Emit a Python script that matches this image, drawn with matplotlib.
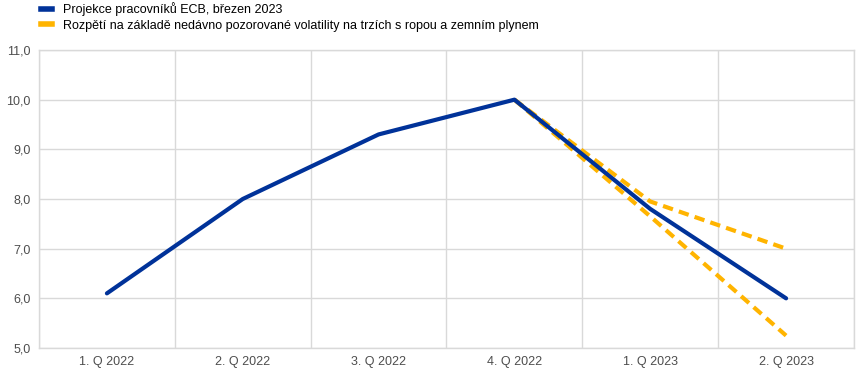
import numpy as np
import matplotlib.pyplot as plt
from matplotlib.lines import Line2D

plt.rcParams['font.family'] = ['Liberation Sans', 'DejaVu Sans']

# kategorie a data
quarters = ['1. Q 2022', '2. Q 2022', '3. Q 2022', '4. Q 2022', '1. Q 2023', '2. Q 2023']
projection = [6.1, 8.0, 9.3, 10.0, 7.8, 6.0]
upper_band = [10.0, 7.95, 7.0]
lower_band = [10.0, 7.65, 5.25]
band_idx = [3, 4, 5]

blue = '#003299'
yellow = '#ffb400'
grid_c = '#d9d9d9'

fig = plt.figure(figsize=(8.62, 3.8), dpi=100)
ax = fig.add_axes([39/862, 32/380, 815/862, 298/380])

x = np.arange(len(quarters))
ax.plot(band_idx, upper_band, color=yellow, lw=3, ls=(0, (2.5, 1.5)), zorder=2)
ax.plot(band_idx, lower_band, color=yellow, lw=3, ls=(0, (2.5, 1.5)), zorder=2)
ax.plot(x, projection, color=blue, lw=3, zorder=3, solid_capstyle='round')

ax.set_xlim(-0.5, len(quarters) - 0.5)
ax.set_ylim(5, 11)
ax.set_yticks(np.arange(5, 11.01, 1))
ax.set_yticklabels([f'{v:.1f}'.replace('.', ',') for v in np.arange(5, 11.01, 1)])
ax.set_xticks(x)
ax.set_xticklabels(quarters)
ax.set_xticks(np.arange(-0.5, len(quarters), 1), minor=True)

ax.grid(True, axis='y', color=grid_c, lw=1)
ax.grid(True, axis='x', which='minor', color=grid_c, lw=1)
ax.set_axisbelow(True)
for s in ax.spines.values():
    s.set_color(grid_c)
    s.set_linewidth(1)
ax.tick_params(axis='both', which='both', length=0, labelsize=9, colors='#4d4d4d', pad=6)

handles = [Line2D([], [], color=blue, lw=4),
           Line2D([], [], color=yellow, lw=4)]
labels = ['Projekce pracovníků ECB, březen 2023',
          'Rozpětí na základě nedávno pozorované volatility na trzích s ropou a zemním plynem']
fig.legend(handles, labels, loc='upper left', bbox_to_anchor=(36/862, 1.008), frameon=False,
           fontsize=9, handlelength=0.9, handletextpad=0.9, labelspacing=0.3, borderaxespad=0)

fig.savefig('out.png', dpi=100)
